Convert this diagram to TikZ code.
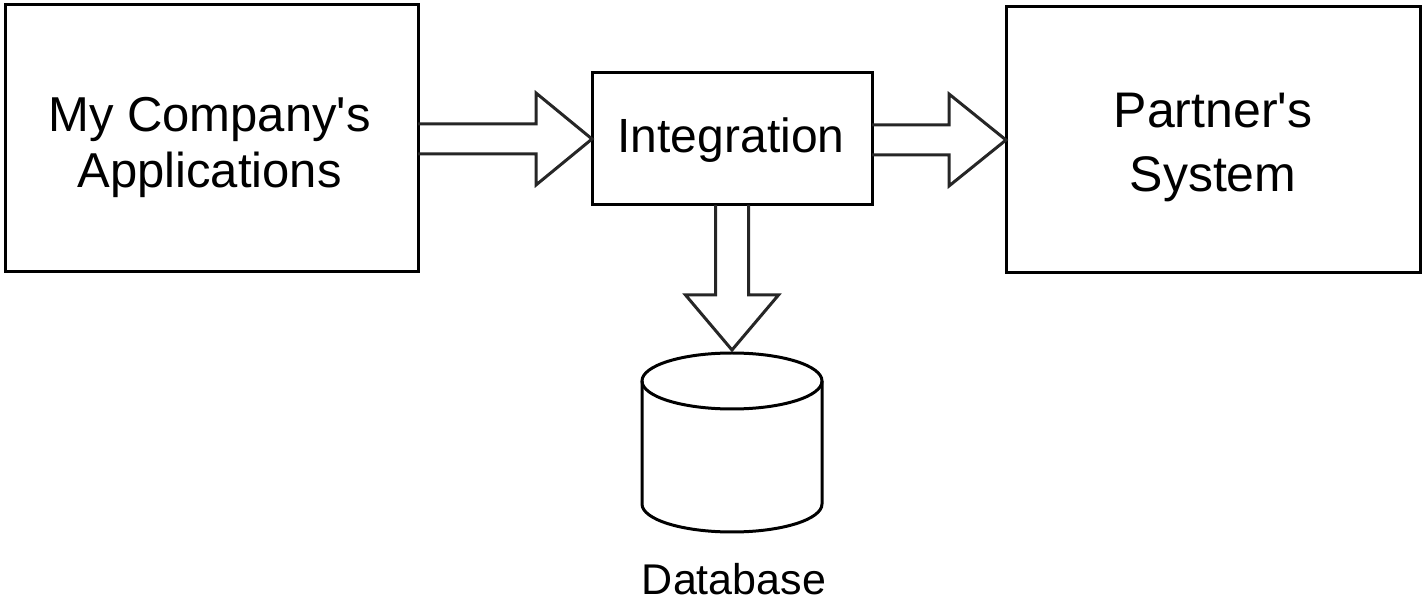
\documentclass[tikz,border=0pt]{standalone}
\usepackage{fontspec}
\setmainfont{Liberation Sans}
\usetikzlibrary{calc}
\begin{document}
\begin{tikzpicture}[x=1pt,y=1pt,
  boxnode/.style={draw=black,line width=3pt,inner sep=0pt,outer sep=0pt},
  bigtext/.style={font=\fontsize{49}{56}\selectfont,align=center,inner sep=0pt},
  fatarrow/.style={draw=black!85,line width=3pt,line join=miter}]
\useasboundingbox (0,0) rectangle (1425,608);
% boxes
\node[boxnode,minimum width=413pt,minimum height=267pt] (left) at (211.5,469.5) {};
\node[boxnode,minimum width=280pt,minimum height=132pt] (integ) at (732,469) {};
\node[boxnode,minimum width=414pt,minimum height=266pt] (right) at (1213,468) {};
% texts
\node[bigtext] (lefttext) at ($(left.center)+(-2,-8.5)$) {My Company\textquotesingle s\\Applications};
\node[bigtext,font=\fontsize{50}{64}\selectfont] (righttext) at ($(right.center)+(0,-7.5)$) {Partner\textquotesingle s\\System};
\node[bigtext,font=\fontsize{48}{56}\selectfont,anchor=base] (integtext) at (731,455) {Integration};
% database
\coordinate (dbtop) at (732,255);
\coordinate (dbc) at (732,227);
\draw[line width=3pt] (dbc) ellipse[x radius=90pt,y radius=28pt];
\draw[line width=3pt] ($(dbc)+(-90,0)$) -- ($(dbc)+(-90,-123)$)
  arc[start angle=180,end angle=360,x radius=90pt,y radius=28pt] -- ($(dbc)+(90,0)$);
\node[font=\fontsize{43}{48}\selectfont,anchor=base,inner sep=0pt] (dbtext) at (734,13) {Database};
% arrow left -> integration
\coordinate (a1s) at (left.east |- integ.west);
\draw[fatarrow] ($(a1s)+(0,15)$) -- ($(integ.west)+(-56,15)$) -- ($(integ.west)+(-56,46)$)
  -- (integ.west) -- ($(integ.west)+(-56,-46)$) -- ($(integ.west)+(-56,-15)$) -- ($(a1s)+(0,-15)$);
% arrow integration -> right
\coordinate (a2s) at (integ.east |- right.west);
\draw[fatarrow] ($(a2s)+(0,15)$) -- ($(right.west)+(-57,15)$) -- ($(right.west)+(-57,46)$)
  -- (right.west) -- ($(right.west)+(-57,-46)$) -- ($(right.west)+(-57,-15)$) -- ($(a2s)+(0,-15)$);
% arrow integration -> database
\draw[fatarrow] ($(integ.south)+(-16.5,0)$) -- ($(integ.south |- 0,313)+(-16.5,0)$)
  -- ($(integ.south |- 0,313)+(-46.5,0)$) -- (dbtop |- 0,258) -- ($(integ.south |- 0,313)+(46.5,0)$)
  -- ($(integ.south |- 0,313)+(16.5,0)$) -- ($(integ.south)+(16.5,0)$);
\end{tikzpicture}
\end{document}
